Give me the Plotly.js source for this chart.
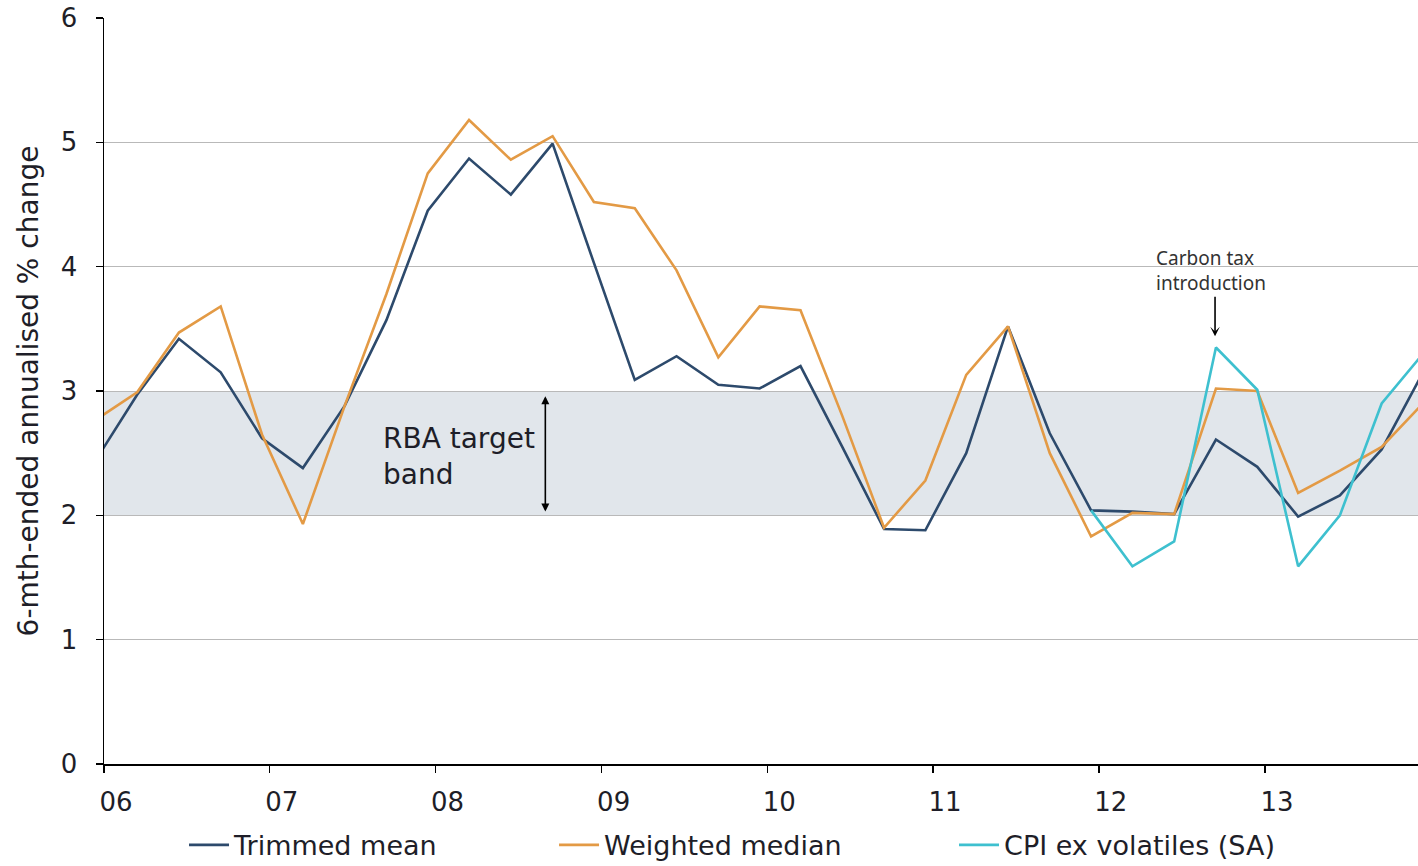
<!DOCTYPE html>
<html>
<head>
<meta charset="utf-8">
<script src="https://cdn.plot.ly/plotly-3.0.1.min.js"></script>
<style>
  html, body { margin: 0; padding: 0; background: #fff; overflow: hidden; }
  #chart { width: 1418px; height: 880px; }
</style>
</head>
<body>
<div id="chart"></div>
<script>
// Quarterly observations, plotted mid-month of Mar/Jun/Sep/Dec
const quarters = [
  "2005-12-15",
  "2006-03-15", "2006-06-15", "2006-09-15", "2006-12-15",
  "2007-03-15", "2007-06-15", "2007-09-15", "2007-12-15",
  "2008-03-15", "2008-06-15", "2008-09-15", "2008-12-15",
  "2009-03-15", "2009-06-15", "2009-09-15", "2009-12-15",
  "2010-03-15", "2010-06-15", "2010-09-15", "2010-12-15",
  "2011-03-15", "2011-06-15", "2011-09-15", "2011-12-15",
  "2012-03-15", "2012-06-15", "2012-09-15", "2012-12-15",
  "2013-03-15", "2013-06-15", "2013-09-15", "2013-12-15"
];

const trimmedMean = [
  2.45,
  2.97, 3.42, 3.15, 2.62,
  2.38, 2.88, 3.57, 4.45,
  4.87, 4.58, 4.99, 4.03,
  3.09, 3.28, 3.05, 3.02,
  3.20, 2.55, 1.89, 1.88,
  2.50, 3.52, 2.66, 2.04,
  2.03, 2.01, 2.61, 2.39,
  1.99, 2.16, 2.53, 3.15
];

const weightedMedian = [
  2.77,
  2.99, 3.47, 3.68, 2.65,
  1.93, 2.88, 3.78, 4.75,
  5.18, 4.86, 5.05, 4.52,
  4.47, 3.97, 3.27, 3.68,
  3.65, 2.80, 1.90, 2.28,
  3.13, 3.52, 2.50, 1.83,
  2.02, 2.01, 3.02, 3.00,
  2.18, 2.36, 2.55, 2.90
];

const cpiQuarters = [
  "2011-12-15",
  "2012-03-15", "2012-06-15", "2012-09-15", "2012-12-15",
  "2013-03-15", "2013-06-15", "2013-09-15", "2013-12-15"
];
const cpiExVolatiles = [
  2.04,
  1.59, 1.79, 3.35, 3.01,
  1.59, 2.00, 2.90, 3.30
];

const yearTicks = ["2006-01-01","2007-01-01","2008-01-01","2009-01-01",
                   "2010-01-01","2011-01-01","2012-01-01","2013-01-01"];
const yTicks = [0, 1, 2, 3, 4, 5, 6];

const bandLow = 2, bandHigh = 3;

const mainFont = "DejaVu Sans, Verdana, sans-serif";
const inkColor = "#1e1e28";

const traces = [
  {
    x: quarters, y: trimmedMean, name: "Trimmed mean",
    type: "scatter", mode: "lines", legend: "legend",
    line: { color: "#2d4a6c", width: 2.6 }
  },
  {
    x: quarters, y: weightedMedian, name: "Weighted median",
    type: "scatter", mode: "lines", legend: "legend2",
    line: { color: "#e39a45", width: 2.6 }
  },
  {
    x: cpiQuarters, y: cpiExVolatiles, name: "CPI ex volatiles (SA)",
    type: "scatter", mode: "lines", legend: "legend3",
    line: { color: "#3ec0cf", width: 2.6 }
  }
];

// One legend box per series, laid along the bottom edge
function legendAt(xFrac) {
  return {
    orientation: "h",
    x: xFrac, xanchor: "left",
    y: -0.109, yanchor: "middle",
    font: { family: mainFont, size: 27, color: inkColor },
    itemwidth: 40,
    bgcolor: "rgba(0,0,0,0)"
  };
}

// Figure runs slightly past the bottom of the page; legend sits on the lower edge
const layout = {
  width: 1418, height: 880,
  margin: { l: 104, r: 0, t: 18, b: 116 },
  paper_bgcolor: "#ffffff",
  plot_bgcolor: "#ffffff",
  font: { family: mainFont, color: inkColor, size: 24 },
  showlegend: true,
  legend: legendAt(0.0609),
  legend2: legendAt(0.3425),
  legend3: legendAt(0.6469),
  xaxis: {
    type: "date",
    range: ["2006-01-01", "2013-12-04"],
    tickvals: yearTicks,
    tickformat: "%y",
    ticks: "outside", ticklen: 7, tickwidth: 1.5, tickcolor: "#000",
    ticklabelshift: 12,
    ticklabelstandoff: 7,
    tickfont: { family: mainFont, size: 26, color: inkColor },
    showgrid: false,
    showline: true, linecolor: "#000", linewidth: 1.5,
    zeroline: false,
    automargin: false
  },
  yaxis: {
    range: [0, 6],
    tickvals: yTicks,
    ticks: "outside", ticklen: 7, tickwidth: 1.5, tickcolor: "#000",
    tickfont: { family: mainFont, size: 26, color: inkColor },
    ticklabelstandoff: 13,
    showgrid: true, gridcolor: "#b9b9b9", gridwidth: 1,
    showline: true, linecolor: "#000", linewidth: 1.5,
    zeroline: false,
    automargin: false,
    title: {
      text: "6-mth-ended annualised % change",
      font: { family: mainFont, size: 28, color: inkColor },
      standoff: 14
    }
  },
  shapes: [
    {
      type: "rect", xref: "paper", yref: "y",
      x0: 0, x1: 1, y0: bandLow, y1: bandHigh,
      fillcolor: "#e1e6eb", line: { width: 0 }, layer: "below"
    }
  ],
  annotations: [
    {
      x: "2007-09-03", y: 2.47, xref: "x", yref: "y",
      text: "RBA target<br>band", showarrow: false,
      xanchor: "left", yanchor: "middle", align: "left",
      font: { family: mainFont, size: 28, color: inkColor }
    },
    {
      x: "2008-08-30", y: 2.03, xref: "x", yref: "y",
      ax: "2008-08-30", ay: 2.97, axref: "x", ayref: "y",
      text: "", showarrow: true,
      arrowhead: 2, arrowside: "end+start", arrowsize: 1,
      arrowwidth: 1.6, arrowcolor: "#000"
    },
    {
      x: "2012-09-05", y: 3.97, xref: "x", yref: "y",
      text: "Carbon tax<br>introduction", showarrow: false,
      xanchor: "center", yanchor: "middle", align: "left",
      font: { family: "Noto Sans, sans-serif", size: 19, color: "#333" }
    },
    {
      x: "2012-09-13", y: 3.44, xref: "x", yref: "y",
      ax: "2012-09-13", ay: 3.77, axref: "x", ayref: "y",
      text: "", showarrow: true,
      arrowhead: 3, arrowsize: 1, arrowwidth: 1.6, arrowcolor: "#000"
    }
  ]
};

Plotly.newPlot("chart", traces, layout, { displayModeBar: false, staticPlot: true });
</script>
</body>
</html>
